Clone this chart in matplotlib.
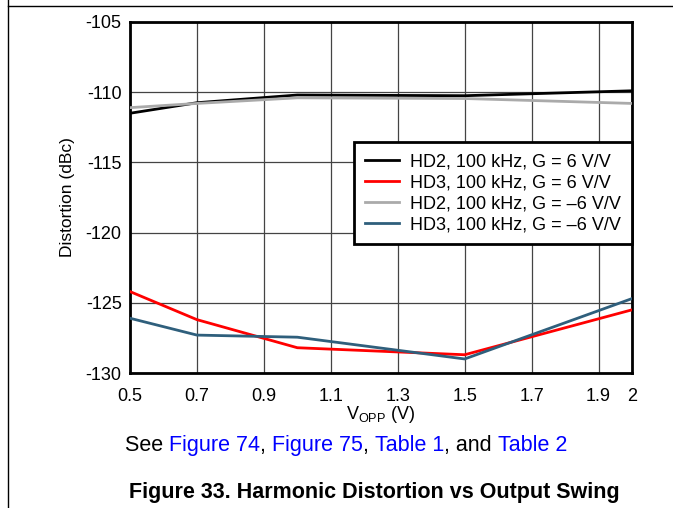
import matplotlib
matplotlib.use("Agg")
import matplotlib.pyplot as plt
from matplotlib.lines import Line2D

plt.rcParams["font.family"] = ["Liberation Sans", "DejaVu Sans"]

# Datos
vopp = [0.5, 0.7, 1.0, 1.5, 2.0]
hd2_g6 = [-111.5, -110.75, -110.2, -110.25, -109.9]
hd3_g6 = [-124.2, -126.2, -128.2, -128.7, -125.5]
hd2_gm6 = [-111.1, -110.8, -110.4, -110.45, -110.8]
hd3_gm6 = [-126.1, -127.3, -127.45, -129.0, -124.7]

series = [
    ("HD2, 100 kHz, G = 6 V/V", hd2_g6, "black"),
    ("HD3, 100 kHz, G = 6 V/V", hd3_g6, "#ff0000"),
    ("HD2, 100 kHz, G = \u20136 V/V", hd2_gm6, "#aaaaaa"),
    ("HD3, 100 kHz, G = \u20136 V/V", hd3_gm6, "#2f5f7c"),
]

xticks = [0.5, 0.7, 0.9, 1.1, 1.3, 1.5, 1.7, 1.9, 2.0]
xticklabels = ["0.5", "0.7", "0.9", "1.1", "1.3", "1.5", "1.7", "1.9", "2"]
yticks = [-130, -125, -120, -115, -110, -105]
yticklabels = ["-130", "-125", "-120", "-115", "-110", "-105"]

caption = [("See ", "black"), ("Figure 74", "#0000ff"), (", ", "black"),
           ("Figure 75", "#0000ff"), (", ", "black"), ("Table 1", "#0000ff"),
           (", and ", "black"), ("Table 2", "#0000ff")]

fig = plt.figure(figsize=(6.73, 5.08), dpi=100)
ax = fig.add_axes([130 / 673, 1 - 373 / 508, 502 / 673, 351 / 508])

for label, y, c in series:
    ax.plot(vopp, y, color=c, lw=2, label=label, zorder=3)

ax.set_xlim(0.5, 2.0)
ax.set_ylim(-130, -105)
ax.set_xticks(xticks)
ax.set_xticklabels(xticklabels)
ax.set_yticks(yticks)
ax.set_yticklabels(yticklabels)
ax.tick_params(length=0, labelsize=13)
ax.tick_params(axis="x", pad=11)
ax.tick_params(axis="y", pad=6)
ax.grid(True, color="#444444", lw=0.9)
for s in ax.spines.values():
    s.set_linewidth(2)
    s.set_color("black")

ax.set_xlabel("V$_{\\mathregular{OPP}}$ (V)", fontsize=13, labelpad=-1)
ax.set_ylabel("Distortion (dBc)", fontsize=12.5, labelpad=8)

leg = ax.legend(loc="upper right", bbox_to_anchor=(1.0, 0.657), fontsize=13,
                frameon=True, fancybox=False, framealpha=1, edgecolor="black",
                handlelength=1.9, borderpad=0.6, labelspacing=0.22,
                handletextpad=0.6, borderaxespad=0)
leg.get_frame().set_linewidth(2)

# Pie de figura: tramos de texto con enlaces en azul
fig.canvas.draw()
r = fig.canvas.get_renderer()
x0 = 125
for txt, col in caption:
    t = fig.text(x0 / 673, 1 - 451 / 508, txt, color=col, fontsize=15.5,
                 va="baseline")
    x0 += t.get_window_extent(renderer=r).width

fig.text(374 / 673, 1 - 498 / 508,
         "Figure 33. Harmonic Distortion vs Output Swing",
         fontsize=15.5, fontweight="bold", ha="center", va="baseline")

fig.add_artist(Line2D([8 / 673, 8 / 673], [0, 1], color="black", lw=1))
fig.add_artist(Line2D([8 / 673, 1], [1 - 6 / 508, 1 - 6 / 508], color="black", lw=1))

fig.savefig("out.png", dpi=100)
